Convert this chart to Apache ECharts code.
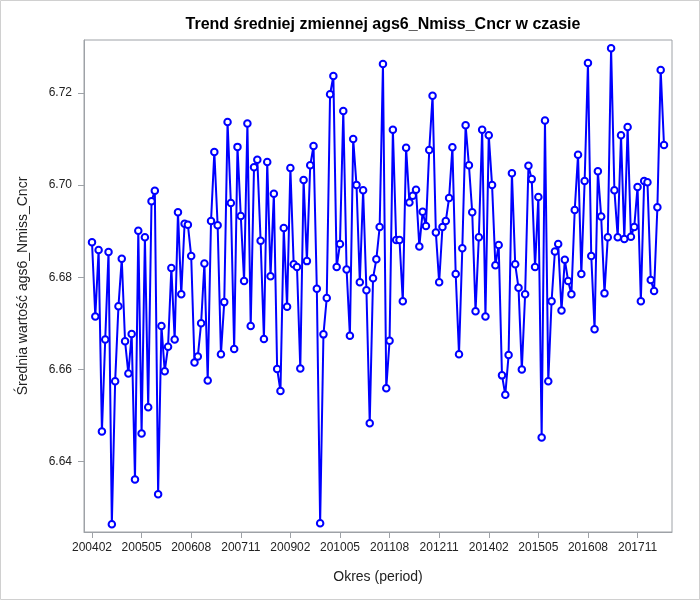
<!DOCTYPE html>
<html>
<head>
<meta charset="utf-8">
<script src="https://cdn.jsdelivr.net/npm/echarts@6/dist/echarts.min.js"></script>
<style>
  html, body { margin: 0; padding: 0; background: #fff; }
  #chart { width: 700px; height: 600px; }
</style>
</head>
<body>
<div id="chart"></div>
<script>
// okresy miesięczne 200402 .. 201807
var periods = [
  '200402','200403','200404','200405','200406','200407','200408','200409','200410','200411','200412',
  '200501','200502','200503','200504','200505','200506','200507','200508','200509','200510','200511','200512',
  '200601','200602','200603','200604','200605','200606','200607','200608','200609','200610','200611','200612',
  '200701','200702','200703','200704','200705','200706','200707','200708','200709','200710','200711','200712',
  '200801','200802','200803','200804','200805','200806','200807','200808','200809','200810','200811','200812',
  '200901','200902','200903','200904','200905','200906','200907','200908','200909','200910','200911','200912',
  '201001','201002','201003','201004','201005','201006','201007','201008','201009','201010','201011','201012',
  '201101','201102','201103','201104','201105','201106','201107','201108','201109','201110','201111','201112',
  '201201','201202','201203','201204','201205','201206','201207','201208','201209','201210','201211','201212',
  '201301','201302','201303','201304','201305','201306','201307','201308','201309','201310','201311','201312',
  '201401','201402','201403','201404','201405','201406','201407','201408','201409','201410','201411','201412',
  '201501','201502','201503','201504','201505','201506','201507','201508','201509','201510','201511','201512',
  '201601','201602','201603','201604','201605','201606','201607','201608','201609','201610','201611','201612',
  '201701','201702','201703','201704','201705','201706','201707','201708','201709','201710','201711','201712',
  '201801','201802','201803','201804','201805','201806','201807'
];

// średnia wartość ags6_Nmiss_Cncr
var meanValues = [
  6.6876, 6.6715, 6.6859, 6.6465, 6.6665, 6.6855, 6.6264, 6.6574, 6.6737, 6.6840,
  6.6661, 6.6591, 6.6677, 6.6361, 6.6901, 6.6461, 6.6887, 6.6518, 6.6965, 6.6988,
  6.6329, 6.6694, 6.6596, 6.6649, 6.6820, 6.6665, 6.6941, 6.6763, 6.6916,
  6.6914, 6.6846, 6.6615, 6.6628, 6.6700, 6.6830, 6.6576, 6.6922, 6.7072, 6.6913,
  6.6633, 6.6746, 6.7137, 6.6961, 6.6644, 6.7083, 6.6933, 6.6792, 6.7134, 6.6694,
  6.7039, 6.7055, 6.6879, 6.6666, 6.7050, 6.6802, 6.6981, 6.6601, 6.6553, 6.6907,
  6.6736, 6.7037, 6.6828, 6.6822, 6.6602, 6.7011, 6.6835, 6.7043, 6.7085, 6.6775,
  6.6266, 6.6676, 6.6755, 6.7197, 6.7237, 6.6822, 6.6872, 6.7161, 6.6817, 6.6673,
  6.7100, 6.7000, 6.6789, 6.6989, 6.6772, 6.6483, 6.6798, 6.6839, 6.6909, 6.7263,
  6.6559, 6.6662, 6.7120, 6.6881, 6.6881, 6.6748, 6.7081, 6.6962, 6.6977, 6.6990,
  6.6867, 6.6942, 6.6911, 6.7076, 6.7194, 6.6897, 6.6789, 6.6909, 6.6922, 6.6972,
  6.7082, 6.6807, 6.6633, 6.6863, 6.7130, 6.7043, 6.6941, 6.6726, 6.6887, 6.7120,
  6.6715,
  6.7108, 6.7000, 6.6826, 6.6870, 6.6587, 6.6545, 6.6631, 6.7026, 6.6828, 6.6777,
  6.6600, 6.6763, 6.7042, 6.7013, 6.6822, 6.6974, 6.6452, 6.7140, 6.6574, 6.6748,
  6.6856, 6.6872, 6.6728, 6.6838, 6.6792, 6.6763, 6.6946, 6.7066, 6.6807, 6.7009,
  6.7265, 6.6846, 6.6687, 6.7030, 6.6932, 6.6765, 6.6887, 6.7297, 6.6989, 6.6887,
  6.7108, 6.6883, 6.7126, 6.6888, 6.6909, 6.6996, 6.6748, 6.7009, 6.7006, 6.6794,
  6.6770, 6.6952, 6.7250, 6.7087
];

var xTickLabels = ['200402','200505','200608','200711','200902','201005',
                   '201108','201211','201402','201505','201608','201711'];
var yTickValues = [6.64, 6.66, 6.68, 6.70, 6.72];

var font = 'Liberation Sans, Arial, Helvetica, sans-serif';
var frameColor = '#9ea2a7';

var xTicks = xTickLabels.map(function (p) { return periods.indexOf(p); });
var seriesData = meanValues.map(function (v, i) { return [i, v]; });

var myChart = echarts.init(document.getElementById('chart'), null, { renderer: 'canvas' });
var option = {
  animation: false,
  backgroundColor: '#fff',
  title: {
    text: 'Trend średniej zmiennej ags6_Nmiss_Cncr w czasie',
    left: 378,
    top: 12,
    textAlign: 'center',
    textStyle: { fontFamily: font, fontSize: 16, fontWeight: 'bold', color: '#000' }
  },
  grid: {
    left: 84, right: 28, top: 40, bottom: 68,
    show: true, borderColor: frameColor, borderWidth: 1, backgroundColor: '#fff'
  },
  xAxis: {
    type: 'value',
    min: -2.42,
    max: 175.42,
    name: 'Okres (period)',
    nameLocation: 'middle',
    nameGap: 38,
    nameTextStyle: { fontFamily: font, fontSize: 14, color: '#222' },
    axisLine: { show: true, onZero: false, lineStyle: { color: frameColor } },
    axisTick: { show: true, length: 6, customValues: xTicks, lineStyle: { color: frameColor } },
    axisLabel: {
      customValues: xTicks,
      margin: 10,
      fontFamily: font, fontSize: 12, color: '#222',
      formatter: function (v) { return periods[Math.round(v)]; }
    },
    splitLine: { show: false }
  },
  yAxis: {
    type: 'value',
    min: 6.6247,
    max: 6.7315,
    name: 'Średnia wartość ags6_Nmiss_Cncr',
    nameLocation: 'middle',
    nameGap: 54,
    nameTextStyle: { fontFamily: font, fontSize: 14, color: '#222' },
    axisLine: { show: true, onZero: false, lineStyle: { color: frameColor } },
    axisTick: { show: true, length: 6, customValues: yTickValues, lineStyle: { color: frameColor } },
    axisLabel: {
      customValues: yTickValues,
      margin: 12,
      fontFamily: font, fontSize: 12, color: '#222',
      formatter: function (v) { return v.toFixed(2); }
    },
    splitLine: { show: false }
  },
  graphic: [{
    type: 'rect',
    shape: { x: 0.5, y: 0.5, width: 699, height: 599 },
    style: { fill: 'none', stroke: '#d0d0d0', lineWidth: 1 },
    silent: true
  }],
  series: [{
    type: 'line',
    data: seriesData,
    symbol: 'emptyCircle',
    symbolSize: 6.5,
    lineStyle: { color: '#0000ff', width: 2 },
    itemStyle: { color: '#0000ff', borderColor: '#0000ff', borderWidth: 1.2 }
  }]
};
myChart.setOption(option);
</script>
</body>
</html>
